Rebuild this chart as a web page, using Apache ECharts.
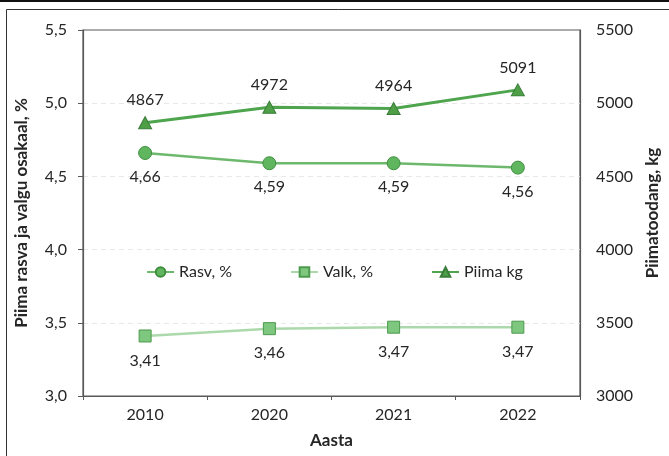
<!DOCTYPE html>
<html>
<head>
<meta charset="utf-8">
<script src="https://cdn.jsdelivr.net/npm/echarts@6/dist/echarts.min.js"></script>
<style>
  html, body { margin: 0; padding: 0; background: #fff; }
  #chart { width: 669px; height: 456px; }
</style>
</head>
<body>
<div id="chart"></div>
<script>
// Years on the category axis
const years = ['2010', '2020', '2021', '2022'];
// Fat and protein content, %
const fatPct = [4.66, 4.59, 4.59, 4.56];
const proteinPct = [3.41, 3.46, 3.47, 3.47];
// Milk yield per cow, kg
const milkKg = [4867, 4972, 4964, 5091];

const FONT = 'Lato';
const TXT = '#262626';
const comma = v => v.toFixed(2).replace('.', ',');

const chart = echarts.init(document.getElementById('chart'), null, { renderer: 'canvas' });

chart.setOption({
  animation: false,
  textStyle: { fontFamily: FONT },
  graphic: [
    { type: 'rect', shape: { x: 0, y: 0, width: 669, height: 2 }, style: { fill: '#111' }, silent: true },
    { type: 'rect', shape: { x: 6.5, y: 9.5, width: 700, height: 500 }, style: { fill: 'none', stroke: '#333', lineWidth: 1 }, silent: true }
  ],
  legend: {
    top: 259,
    left: 'center',
    itemWidth: 27,
    itemHeight: 12,
    itemGap: 58,
    textStyle: { fontFamily: FONT, fontSize: 16, color: TXT },
    data: ['Rasv, %', 'Valk, %', 'Piima kg']
  },
  grid: {
    left: 83, right: 83, top: 30, bottom: 60,
    show: true, borderColor: '#595959', borderWidth: 1.2
  },
  xAxis: {
    type: 'category',
    data: years,
    boundaryGap: true,
    name: 'Aasta',
    nameLocation: 'middle',
    nameGap: 36,
    nameTextStyle: { fontFamily: FONT, fontSize: 17, fontWeight: 'bold', color: TXT },
    axisLine: { lineStyle: { color: '#595959', width: 1.2 } },
    axisTick: { show: true, inside: false, length: 4, lineStyle: { color: '#595959' } },
    axisLabel: { fontFamily: FONT, fontSize: 16, color: TXT, margin: 11 }
  },
  yAxis: [
    {
      type: 'value',
      min: 3, max: 5.5, interval: 0.5,
      name: 'Piima rasva ja valgu osakaal, %',
      nameLocation: 'middle',
      nameGap: 53,
      nameRotate: 90,
      nameTextStyle: { fontFamily: FONT, fontSize: 17, fontWeight: 'bold', color: TXT },
      axisLine: { show: true, lineStyle: { color: '#595959', width: 1.2 } },
      axisTick: { show: true, length: 5, lineStyle: { color: '#595959' } },
      axisLabel: { fontFamily: FONT, fontSize: 16, color: TXT, margin: 16, formatter: v => v.toFixed(1).replace('.', ',') },
      splitLine: { show: true, showMinLine: false, showMaxLine: false, lineStyle: { color: '#e8e8e8', type: [5, 4], width: 1 } }
    },
    {
      type: 'value',
      min: 3000, max: 5500, interval: 500,
      position: 'right',
      name: 'Piimatoodang, kg',
      nameLocation: 'middle',
      nameGap: 63,
      nameRotate: 90,
      nameTextStyle: { fontFamily: FONT, fontSize: 17, fontWeight: 'bold', color: TXT },
      axisLine: { show: true, lineStyle: { color: '#595959', width: 1.2 } },
      axisTick: { show: false },
      axisLabel: { fontFamily: FONT, fontSize: 16, color: TXT, margin: 16, formatter: v => String(v) },
      splitLine: { show: false }
    }
  ],
  series: [
    {
      name: 'Rasv, %',
      type: 'line',
      yAxisIndex: 0,
      data: fatPct,
      symbol: 'circle',
      symbolSize: 13,
      lineStyle: { color: '#6db86d', width: 2.5 },
      itemStyle: { color: '#5fb65f', borderColor: '#3f8f3f', borderWidth: 1 },
      label: { show: true, position: 'bottom', distance: 9, fontFamily: FONT, fontSize: 16, color: TXT, formatter: p => comma(p.value) },
      z: 3
    },
    {
      name: 'Valk, %',
      type: 'line',
      yAxisIndex: 0,
      data: proteinPct,
      symbol: 'rect',
      symbolSize: 12,
      lineStyle: { color: '#acd9ac', width: 2.5 },
      itemStyle: { color: '#7ec77e', borderColor: '#4d9a4d', borderWidth: 1 },
      label: { show: true, position: 'bottom', distance: 10, fontFamily: FONT, fontSize: 16, color: TXT, formatter: p => comma(p.value) },
      z: 2
    },
    {
      name: 'Piima kg',
      type: 'line',
      yAxisIndex: 1,
      data: milkKg,
      symbol: 'triangle',
      symbolSize: [13, 12],
      lineStyle: { color: '#4ea54e', width: 3 },
      itemStyle: { color: '#4e9f46', borderColor: '#3a7d3a', borderWidth: 1 },
      label: { show: true, position: 'top', distance: 8, fontFamily: FONT, fontSize: 16, color: TXT },
      z: 4
    }
  ]
});
</script>
</body>
</html>
